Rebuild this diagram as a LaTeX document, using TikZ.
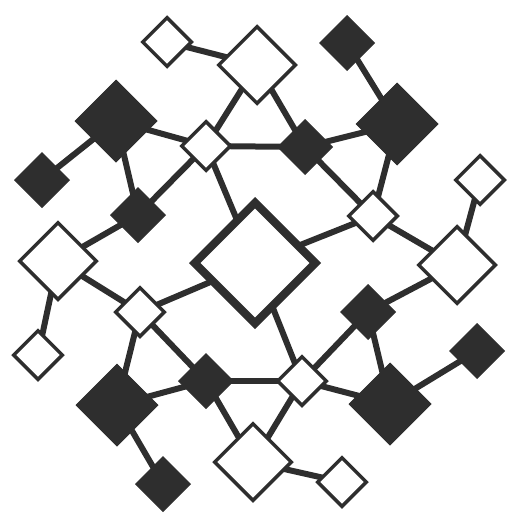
\documentclass[tikz,border=0pt]{standalone}
\usepackage{xcolor}
\usepackage{tikz}
\usetikzlibrary{shapes.geometric,backgrounds}
\definecolor{ink}{HTML}{2E2E2E}

\begin{document}
\begin{tikzpicture}[x=1pt,y=-1pt,
   dm/.style={diamond,aspect=1,inner sep=0pt,draw=ink,line width=3.5pt},
   wsm/.style={dm,fill=white,minimum size=50pt},
   wmd/.style={dm,fill=white,minimum size=78pt},
   dsm/.style={dm,fill=ink,line width=1pt,minimum size=55pt},
   dlg/.style={dm,fill=ink,line width=1pt,minimum size=82pt},
   ln/.style={draw=ink,line width=6pt}]
  \useasboundingbox (0,0) rectangle (507,514);
  % centre
  \node[dm,fill=white,line width=8pt,minimum size=124pt] (hub) at (255,263) {};
  % inner ring
  \node[wsm] (wa) at (206,146) {};  \node[wsm] (wb) at (373,216) {};
  \node[wsm] (wd) at (302,381) {};  \node[wsm] (wc) at (140,312) {};
  \node[dsm] (da) at (305,147) {};  \node[dsm] (dc) at (368,312) {};
  \node[dsm] (dd) at (206,381) {};  \node[dsm] (db) at (138,215) {};
  % outer ring
  \node[wmd] (wm1) at (257,65)  {};  \node[wmd] (wm2) at (457,265) {};
  \node[wmd] (wm4) at (253,462) {};  \node[wmd] (wm3) at (58,261)  {};
  \node[dlg] (dl1) at (397,124) {};  \node[dlg] (dl3) at (390,404) {};
  \node[dlg] (dl4) at (117,405) {};  \node[dlg] (dl2) at (116,121) {};
  % tips
  \node[wsm] (ws1) at (167,42)  {};  \node[wsm] (ws2) at (480,180) {};
  \node[wsm] (ws4) at (342,482) {};  \node[wsm] (ws3) at (38,355)  {};
  \node[dsm] (ds1) at (347,43)  {};  \node[dsm] (ds3) at (477,351) {};
  \node[dsm] (ds4) at (163,484) {};  \node[dsm] (ds2) at (42,180)  {};
  \begin{scope}[on background layer]
    \foreach \a/\b in {ws1/wm1,wm1/wa,wm1/da,ds1/dl1,dl1/da,dl1/wb,da/wa,da/wb,
        dl2/ds2,dl2/wa,dl2/db,db/wa,wa/hub,db/wm3,wm3/ws3,wm3/wc,wc/hub,wc/dl4,
        wc/dd,dl4/dd,dl4/ds4,dd/wm4,dd/wd,hub/wd,hub/wb,wb/wm2,wm2/ws2,wm2/dc,
        dc/wd,dc/dl3,dl3/wd,dl3/ds3,wd/wm4,wm4/ws4}
      \draw[ln] (\a.center) -- (\b.center);
  \end{scope}
\end{tikzpicture}
\end{document}
